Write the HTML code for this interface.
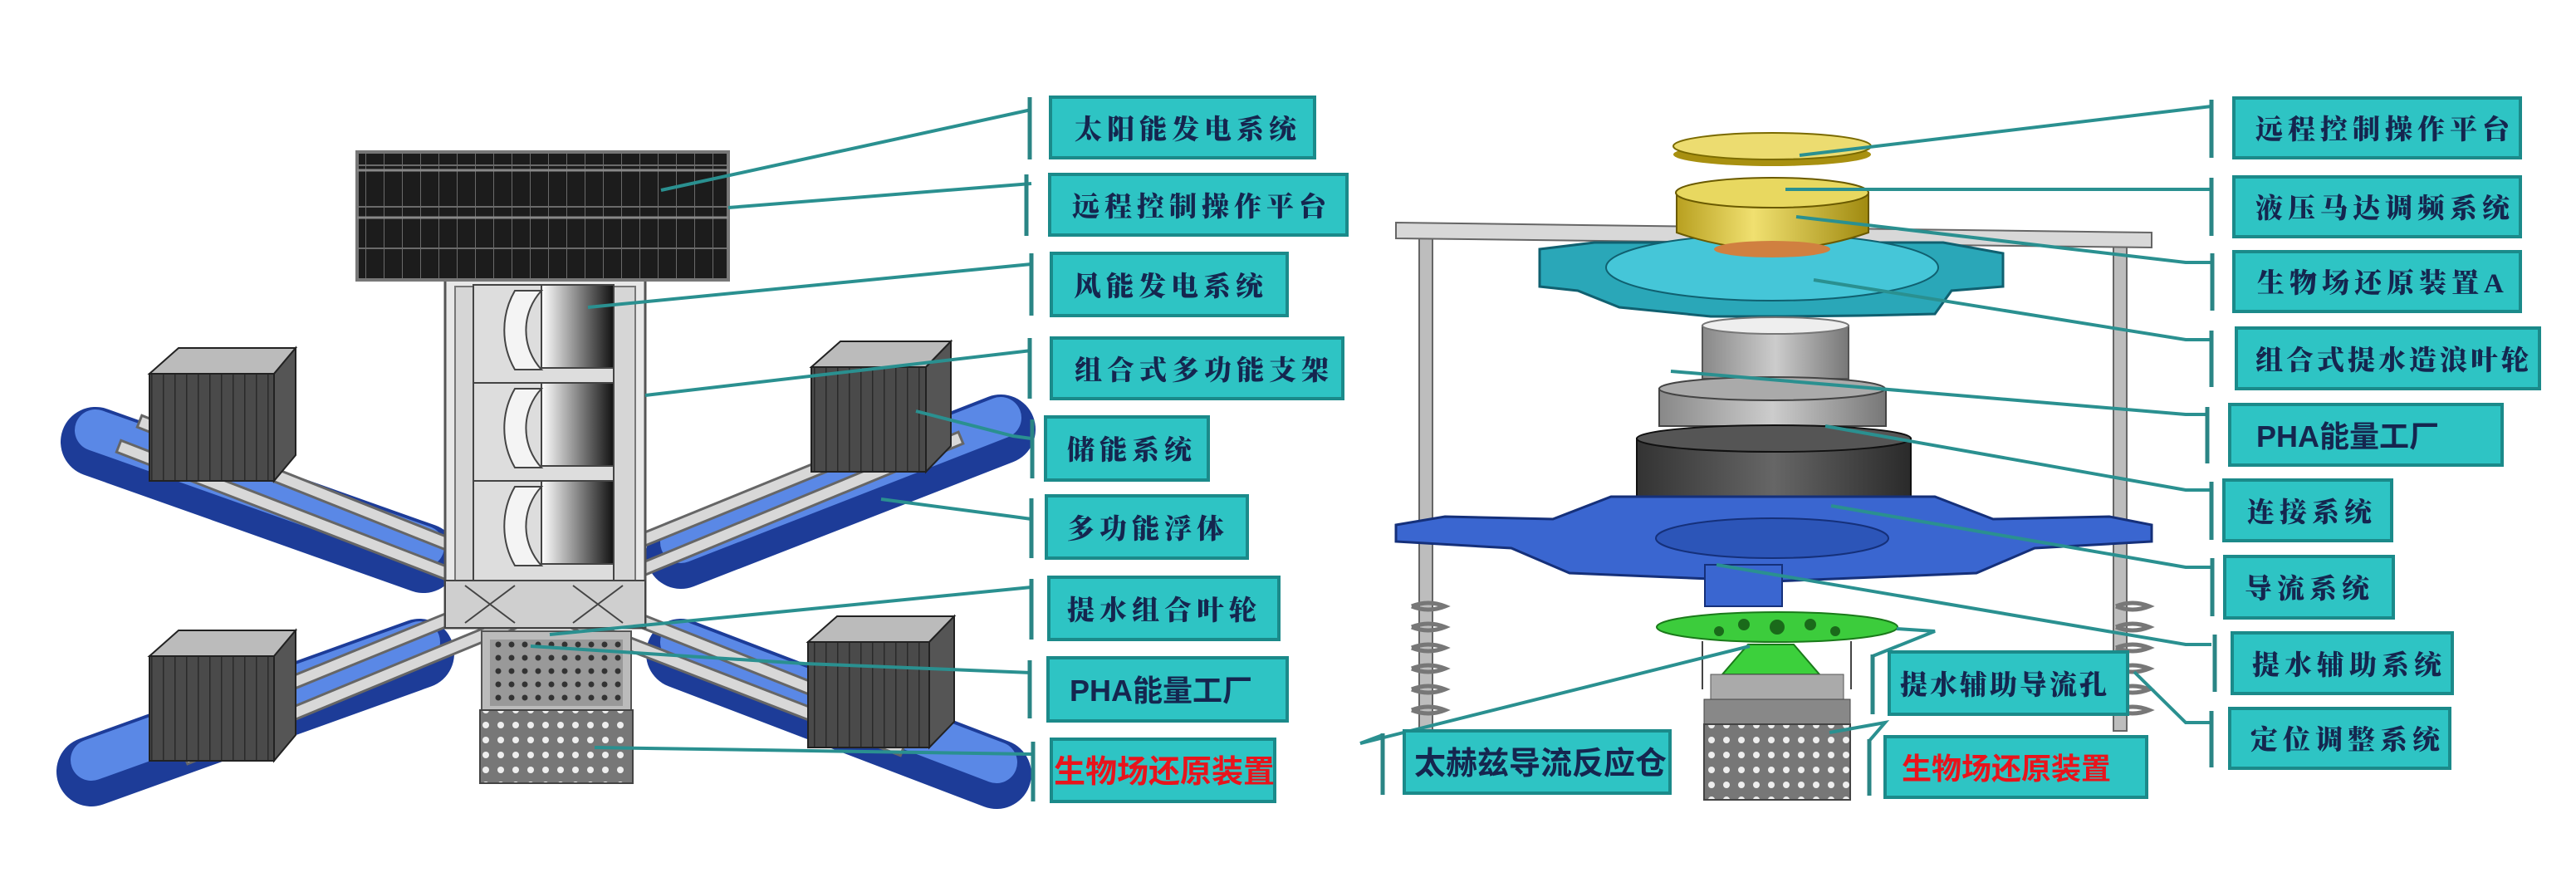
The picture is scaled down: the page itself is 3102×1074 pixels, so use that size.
<!DOCTYPE html>
<html><head><meta charset="utf-8"><style>
html,body{margin:0;padding:0;background:#fff;}
svg{display:block;}
.bx{fill:#2ec4c4;stroke:#1b8a8a;stroke-width:4;}
.t{font-family:"Liberation Serif","Noto Serif CJK SC",serif;font-weight:900;font-size:33px;fill:#15264f;letter-spacing:6px;}
.s{font-family:"Liberation Sans","Noto Sans CJK SC",sans-serif;font-weight:bold;font-size:38px;fill:#15264f;}
.r{font-family:"Liberation Sans","Noto Sans CJK SC",sans-serif;font-weight:bold;font-size:38px;fill:#e8141c;}
.ln{stroke:#2a9090;stroke-width:4;fill:none;}
.br{stroke:#2a8585;stroke-width:5;fill:none;}
</style></head><body>
<svg width="3102" height="1074" viewBox="0 0 3102 1074" xmlns="http://www.w3.org/2000/svg">
<defs>
<linearGradient id="tb" x1="0" x2="1"><stop offset="0" stop-color="#fff"/><stop offset="0.5" stop-color="#888"/><stop offset="1" stop-color="#111"/></linearGradient>
<linearGradient id="yel" x1="0" x2="1"><stop offset="0" stop-color="#b8a020"/><stop offset="0.4" stop-color="#f0e070"/><stop offset="1" stop-color="#a08a10"/></linearGradient>
<linearGradient id="dk" x1="0" x2="1"><stop offset="0" stop-color="#333"/><stop offset="0.5" stop-color="#666"/><stop offset="1" stop-color="#2a2a2a"/></linearGradient>
<linearGradient id="gr" x1="0" x2="1"><stop offset="0" stop-color="#888"/><stop offset="0.5" stop-color="#ccc"/><stop offset="1" stop-color="#777"/></linearGradient>
<pattern id="dots" width="18" height="18" patternUnits="userSpaceOnUse"><rect width="18" height="18" fill="#777"/><circle cx="9" cy="9" r="4" fill="#eee"/></pattern>
<pattern id="dots2" width="16" height="16" patternUnits="userSpaceOnUse"><rect width="16" height="16" fill="#999"/><circle cx="8" cy="8" r="3.5" fill="#333"/></pattern>
<pattern id="solar" width="22" height="50" patternUnits="userSpaceOnUse"><rect width="22" height="50" fill="#1c1c1c"/><path d="M0 0V50M0 49H22" stroke="#6a6a6a" stroke-width="2"/></pattern>
<pattern id="bat" width="14" height="20" patternUnits="userSpaceOnUse"><rect width="14" height="20" fill="#4a4a4a"/><path d="M0 0V20" stroke="#2a2a2a" stroke-width="3"/></pattern>
</defs>

<!-- pontoons -->
<g stroke-linecap="round">
<line x1="115" y1="532" x2="510" y2="672" stroke="#1d3c98" stroke-width="84"/>
<line x1="115" y1="518" x2="510" y2="658" stroke="#5a88e6" stroke-width="50"/>
<line x1="1205" y1="517" x2="820" y2="667" stroke="#1d3c98" stroke-width="84"/>
<line x1="1205" y1="503" x2="820" y2="653" stroke="#5a88e6" stroke-width="50"/>
<line x1="110" y1="929" x2="505" y2="787" stroke="#1d3c98" stroke-width="84"/>
<line x1="110" y1="915" x2="505" y2="773" stroke="#5a88e6" stroke-width="50"/>
<line x1="1200" y1="932" x2="820" y2="787" stroke="#1d3c98" stroke-width="84"/>
<line x1="1200" y1="918" x2="820" y2="773" stroke="#5a88e6" stroke-width="50"/>
</g>
<g stroke="#666" stroke-width="18" stroke-linecap="square">
<line x1="150" y1="540" x2="1080" y2="900"/><line x1="175" y1="510" x2="1080" y2="870"/>
<line x1="1150" y1="530" x2="230" y2="910"/><line x1="1130" y1="505" x2="210" y2="880"/>
</g>
<g stroke="#d8d8d8" stroke-width="12" stroke-linecap="square">
<line x1="150" y1="540" x2="1080" y2="900"/><line x1="175" y1="510" x2="1080" y2="870"/>
<line x1="1150" y1="530" x2="230" y2="910"/><line x1="1130" y1="505" x2="210" y2="880"/>
</g>
<g stroke="#222" stroke-width="2">
<polygon points="180,450 215,419 356,419 330,450" fill="#bbb"/><rect x="180" y="450" width="150" height="129" fill="url(#bat)"/><polygon points="330,450 356,419 356,548 330,579" fill="#555"/>
<polygon points="977,442 1012,411 1145,411 1115,442" fill="#bbb"/><rect x="977" y="442" width="138" height="126" fill="url(#bat)"/><polygon points="1115,442 1145,411 1145,537 1115,568" fill="#555"/>
<polygon points="180,790 215,759 356,759 330,790" fill="#bbb"/><rect x="180" y="790" width="150" height="126" fill="url(#bat)"/><polygon points="330,790 356,759 356,885 330,916" fill="#555"/>
<polygon points="973,773 1008,742 1149,742 1119,773" fill="#bbb"/><rect x="973" y="773" width="146" height="127" fill="url(#bat)"/><polygon points="1119,773 1149,742 1149,869 1119,900" fill="#555"/>
</g>
<rect x="580" y="760" width="180" height="95" fill="#bbb" stroke="#555" stroke-width="2"/>
<rect x="590" y="770" width="160" height="80" fill="url(#dots2)"/>
<rect x="578" y="855" width="184" height="88" fill="url(#dots)" stroke="#444" stroke-width="2"/>
<rect x="536" y="335" width="241" height="421" fill="#e8e8e8" stroke="#555" stroke-width="3"/>
<rect x="548" y="345" width="217" height="400" fill="#d6d6d6" stroke="#777" stroke-width="2"/>
<g stroke="#444" stroke-width="2">
<rect x="570" y="343" width="169" height="118" fill="#ddd"/>
<rect x="652" y="343" width="87" height="100" fill="url(#tb)"/>
<path d="M652 350 A70 70 0 0 0 652 445 L620 445 A95 95 0 0 1 620 350Z" fill="#f4f4f4"/>
<rect x="570" y="461" width="169" height="118" fill="#ddd"/>
<rect x="652" y="461" width="87" height="100" fill="url(#tb)"/>
<path d="M652 468 A70 70 0 0 0 652 563 L620 563 A95 95 0 0 1 620 468Z" fill="#f4f4f4"/>
<rect x="570" y="579" width="169" height="120" fill="#ddd"/>
<rect x="652" y="579" width="87" height="100" fill="url(#tb)"/>
<path d="M652 586 A70 70 0 0 0 652 681 L620 681 A95 95 0 0 1 620 586Z" fill="#f4f4f4"/>
<rect x="536" y="699" width="241" height="57" fill="#cfcfcf"/>
<path d="M560 705 L620 750 M620 705 L560 750 M690 705 L750 750 M750 705 L690 750" />
</g>
<rect x="430" y="183" width="447" height="154" fill="url(#solar)" stroke="#777" stroke-width="4"/>
<line x1="430" y1="205" x2="877" y2="205" stroke="#888" stroke-width="3"/>
<line x1="430" y1="262" x2="877" y2="262" stroke="#888" stroke-width="3"/>

<g class="ln">
<line x1="1242" y1="132" x2="796" y2="229"/>
<line x1="1242" y1="221" x2="877" y2="250"/>
<line x1="1242" y1="318" x2="708" y2="370"/>
<line x1="1242" y1="422" x2="777" y2="476"/>
<polyline points="1242,528 1220,525 1103,495"/>
<polyline points="1242,625 1220,622 1061,601"/>
<line x1="1242" y1="707" x2="662" y2="764"/>
<polyline points="1242,810 969,799 639,778"/>
<line x1="1242" y1="908" x2="716" y2="900"/>
</g>
<g class="br">
<line x1="1240" y1="117" x2="1240" y2="192"/>
<line x1="1236" y1="210" x2="1236" y2="284"/>
<line x1="1242" y1="305" x2="1242" y2="380"/>
<line x1="1240" y1="407" x2="1240" y2="480"/>
<line x1="1243" y1="505" x2="1243" y2="576"/>
<line x1="1242" y1="600" x2="1242" y2="672"/>
<line x1="1242" y1="697" x2="1242" y2="770"/>
<line x1="1240" y1="795" x2="1240" y2="865"/>
<line x1="1244" y1="893" x2="1244" y2="965"/>
</g>
<rect class="bx" x="1265" y="117" width="318" height="73"/><text class="t" x="1294" y="167">太阳能发电系统</text>
<rect class="bx" x="1264" y="210" width="358" height="73"/><text class="t" x="1291" y="260">远程控制操作平台</text>
<rect class="bx" x="1266" y="305" width="284" height="75"/><text class="t" x="1293" y="356">风能发电系统</text>
<rect class="bx" x="1266" y="407" width="351" height="73"/><text class="t" x="1294" y="457">组合式多功能支架</text>
<rect class="bx" x="1259" y="502" width="196" height="76"/><text class="t" x="1285" y="553">储能系统</text>
<rect class="bx" x="1260" y="597" width="242" height="75"/><text class="t" x="1285" y="648">多功能浮体</text>
<rect class="bx" x="1263" y="695" width="277" height="75"/><text class="t" x="1285" y="746">提水组合叶轮</text>
<rect class="bx" x="1262" y="792" width="288" height="76"/><text class="s" x="1288" y="844" style="font-size:36px">PHA能量工厂</text>
<rect class="bx" x="1266" y="890" width="269" height="75"/><text class="r" x="1269" y="942">生物场还原装置</text>

<!-- right -->
<rect x="1709" y="280" width="16" height="600" fill="#bdbdbd" stroke="#666" stroke-width="2"/>
<rect x="2545" y="280" width="16" height="600" fill="#bdbdbd" stroke="#666" stroke-width="2"/>
<g fill="none" stroke="#777" stroke-width="5">
<path d="M1700 730 q20 -8 40 0 q-20 8 -40 0 M1700 755 q20 -8 40 0 q-20 8 -40 0 M1700 780 q20 -8 40 0 q-20 8 -40 0 M1700 805 q20 -8 40 0 q-20 8 -40 0 M1700 830 q20 -8 40 0 q-20 8 -40 0 M1700 855 q20 -8 40 0 q-20 8 -40 0"/>
<path d="M2548 730 q20 -8 40 0 q-20 8 -40 0 M2548 755 q20 -8 40 0 q-20 8 -40 0 M2548 780 q20 -8 40 0 q-20 8 -40 0 M2548 805 q20 -8 40 0 q-20 8 -40 0 M2548 830 q20 -8 40 0 q-20 8 -40 0 M2548 855 q20 -8 40 0 q-20 8 -40 0"/>
</g>
<polygon points="1681,268 2591,280 2591,298 1681,287" fill="#d8d8d8" stroke="#666" stroke-width="2"/>
<polygon points="1854,300 1920,292 2340,292 2412,305 2412,345 2350,350 2330,378 2240,380 2150,381 2060,381 1950,370 1900,350 1854,345" fill="#2aa7b8" stroke="#106070" stroke-width="3"/>
<ellipse cx="2134" cy="322" rx="200" ry="40" fill="#45c6d8" stroke="#106070" stroke-width="2"/>
<path d="M2019 232 L2019 280 Q2134 320 2250 280 L2250 232 Z" fill="url(#yel)" stroke="#6a5a00" stroke-width="2"/>
<ellipse cx="2134" cy="232" rx="116" ry="18" fill="#e8d860" stroke="#6a5a00" stroke-width="2"/>
<ellipse cx="2134" cy="300" rx="70" ry="10" fill="#d08040"/>
<ellipse cx="2134" cy="186" rx="119" ry="14" fill="#a89010"/>
<ellipse cx="2134" cy="176" rx="119" ry="16" fill="#ecdc70" stroke="#7a6a00" stroke-width="2"/>
<rect x="2050" y="392" width="176" height="64" fill="url(#gr)" stroke="#555" stroke-width="2"/>
<ellipse cx="2138" cy="392" rx="88" ry="10" fill="#eee" stroke="#777" stroke-width="2"/>
<rect x="1998" y="468" width="273" height="45" fill="url(#gr)" stroke="#444" stroke-width="2"/>
<ellipse cx="2134" cy="468" rx="136" ry="14" fill="#aaa" stroke="#444" stroke-width="2"/>
<rect x="1971" y="528" width="330" height="88" fill="url(#dk)" stroke="#111" stroke-width="2"/>
<ellipse cx="2136" cy="528" rx="165" ry="16" fill="#555" stroke="#111" stroke-width="2"/>
<polygon points="1681,632 1740,622 1870,625 1940,598 2330,598 2400,625 2540,622 2591,632 2591,652 2450,660 2380,690 2134,700 1890,690 1820,660 1681,652" fill="#3a66d0" stroke="#15307a" stroke-width="3"/>
<ellipse cx="2134" cy="648" rx="140" ry="24" fill="#2c55b8" stroke="#15307a" stroke-width="2"/>
<rect x="2053" y="680" width="93" height="50" fill="#3a66d0" stroke="#15307a" stroke-width="2"/>
<ellipse cx="2140" cy="755" rx="145" ry="18" fill="#3ccc3c" stroke="#1a7a1a" stroke-width="2"/>
<g fill="#1a6a1a"><circle cx="2100" cy="752" r="7"/><circle cx="2140" cy="755" r="9"/><circle cx="2180" cy="752" r="7"/><circle cx="2070" cy="760" r="6"/><circle cx="2210" cy="760" r="6"/></g>
<line x1="2050" y1="772" x2="2050" y2="830" stroke="#444" stroke-width="2"/><line x1="2229" y1="772" x2="2229" y2="830" stroke="#444" stroke-width="2"/>
<polygon points="2105,776 2160,776 2191,812 2074,812" fill="#3cd03c" stroke="#1a7a1a" stroke-width="2"/>
<rect x="2060" y="812" width="160" height="30" fill="#aaa" stroke="#555"/>
<rect x="2052" y="842" width="176" height="30" fill="#888" stroke="#444"/>
<rect x="2052" y="872" width="176" height="91" fill="url(#dots)" stroke="#444" stroke-width="2"/>

<g class="ln">
<line x1="2663" y1="128" x2="2167" y2="187"/>
<line x1="2663" y1="228" x2="2150" y2="228"/>
<polyline points="2663,316 2632,316 2163,261"/>
<polyline points="2663,409 2632,409 2184,337"/>
<polyline points="2658,499 2632,499 2012,447"/>
<polyline points="2663,590 2632,590 2198,513"/>
<polyline points="2663,683 2632,683 2205,609"/>
<polyline points="2663,776 2632,776 2067,680"/>
<polyline points="2663,870 2632,870 2570,809"/>
<polyline points="1665,885 1638,895 2107,778"/>
<polyline points="2255,790 2330,760 2284,757"/>
<polyline points="2251,892 2270,870 2203,882"/>
</g>
<g class="br">
<line x1="2663" y1="120" x2="2663" y2="190"/>
<line x1="2663" y1="214" x2="2663" y2="284"/>
<line x1="2664" y1="305" x2="2664" y2="374"/>
<line x1="2663" y1="398" x2="2663" y2="466"/>
<line x1="2658" y1="490" x2="2658" y2="558"/>
<line x1="2663" y1="580" x2="2663" y2="650"/>
<line x1="2664" y1="672" x2="2664" y2="742"/>
<line x1="2667" y1="764" x2="2667" y2="833"/>
<line x1="2663" y1="856" x2="2663" y2="924"/>
<line x1="1665" y1="883" x2="1665" y2="957"/>
<line x1="2255" y1="788" x2="2255" y2="860"/>
<line x1="2251" y1="890" x2="2251" y2="958"/>
</g>
<rect class="bx" x="2690" y="118" width="345" height="72"/><text class="t" x="2716" y="167">远程控制操作平台</text>
<rect class="bx" x="2690" y="213" width="345" height="72"/><text class="t" x="2716" y="262">液压马达调频系统</text>
<rect class="bx" x="2690" y="303" width="345" height="72"/><text class="t" x="2718" y="352">生物场还原装置A</text>
<rect class="bx" x="2693" y="395" width="365" height="73"/><text class="t" x="2716" y="445" style="letter-spacing:4px">组合式提水造浪叶轮</text>
<rect class="bx" x="2685" y="487" width="328" height="73"/><text class="s" x="2717" y="538" style="font-size:36px">PHA能量工厂</text>
<rect class="bx" x="2678" y="578" width="202" height="73"/><text class="t" x="2706" y="628">连接系统</text>
<rect class="bx" x="2679" y="670" width="203" height="74"/><text class="t" x="2703" y="720">导流系统</text>
<rect class="bx" x="2688" y="762" width="265" height="73"/><text class="t" x="2712" y="812">提水辅助系统</text>
<rect class="bx" x="2685" y="853" width="265" height="72"/><text class="t" x="2710" y="902">定位调整系统</text>
<rect class="bx" x="2275" y="785" width="287" height="75"/><text class="t" x="2288" y="836" style="letter-spacing:3px">提水辅助导流孔</text>
<rect class="bx" x="1691" y="880" width="320" height="75"/><text class="s" x="1703" y="932">太赫兹导流反应仓</text>
<rect class="bx" x="2270" y="887" width="315" height="73"/><text class="r" x="2290" y="938" style="font-size:36px">生物场还原装置</text>
</svg>
</body></html>
